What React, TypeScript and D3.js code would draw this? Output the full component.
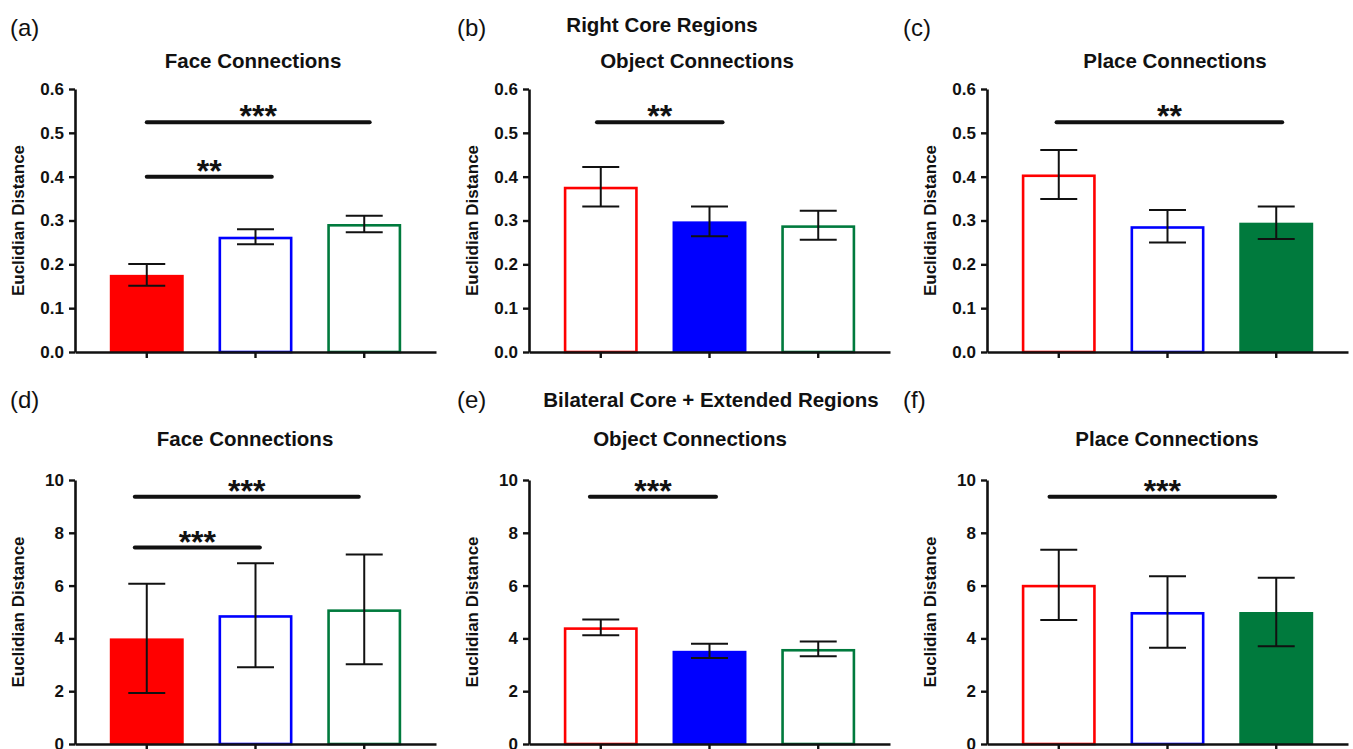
import { useEffect, useRef } from "react";
import * as d3 from "d3";

// groups shown in every panel, left to right
const groups = ["Face", "Object", "Place"];
const groupColors = ["#ff0000", "#0000ff", "#007a3d"];

const panelLetters = ["(a)", "(b)", "(c)", "(d)", "(e)", "(f)"];
const panelTitles = [
  "Face Connections",
  "Object Connections",
  "Place Connections",
  "Face Connections",
  "Object Connections",
  "Place Connections",
];
const rowHeaders = ["Right Core Regions", "Bilateral Core + Extended Regions"];

const rightCoreTicks = [0, 0.1, 0.2, 0.3, 0.4, 0.5, 0.6];
const bilateralTicks = [0, 2, 4, 6, 8, 10];

// right core regions
const rightFaceMean = [0.176, 0.263, 0.292];
const rightFaceSem = [0.025, 0.017, 0.019];
const rightObjectMean = [0.377, 0.298, 0.289];
const rightObjectSem = [0.045, 0.034, 0.033];
const rightPlaceMean = [0.405, 0.287, 0.295];
const rightPlaceSem = [0.056, 0.037, 0.037];

// bilateral core + extended regions
const bilatFaceMean = [4.0, 4.88, 5.1];
const bilatFaceSem = [2.07, 1.97, 2.08];
const bilatObjectMean = [4.42, 3.53, 3.6];
const bilatObjectSem = [0.3, 0.27, 0.28];
const bilatPlaceMean = [6.03, 5.0, 5.0];
const bilatPlaceSem = [1.33, 1.35, 1.3];

// index of the solid bar in each panel (the others are outlines)
const solidBar = [0, 1, 2, 0, 1, 2];

// significance bars, x in group units (0 = centre of first group)
const rightFaceSig = [
  { from: 0, to: 1.15, y: 0.4, label: "**" },
  { from: 0, to: 2.05, y: 0.524, label: "***" },
];
const rightObjectSig = [{ from: -0.035, to: 1.12, y: 0.524, label: "**" }];
const rightPlaceSig = [{ from: -0.02, to: 2.055, y: 0.524, label: "**" }];
const bilatFaceSig = [
  { from: -0.11, to: 1.04, y: 7.44, label: "***" },
  { from: -0.11, to: 1.95, y: 9.37, label: "***" },
];
const bilatObjectSig = [{ from: -0.1, to: 1.06, y: 9.37, label: "***" }];
const bilatPlaceSig = [{ from: -0.085, to: 1.99, y: 9.37, label: "***" }];

const panels = [
  { mean: rightFaceMean, sem: rightFaceSem, sig: rightFaceSig, row: 0, col: 0 },
  { mean: rightObjectMean, sem: rightObjectSem, sig: rightObjectSig, row: 0, col: 1 },
  { mean: rightPlaceMean, sem: rightPlaceSem, sig: rightPlaceSig, row: 0, col: 2 },
  { mean: bilatFaceMean, sem: bilatFaceSem, sig: bilatFaceSig, row: 1, col: 0 },
  { mean: bilatObjectMean, sem: bilatObjectSem, sig: bilatObjectSig, row: 1, col: 1 },
  { mean: bilatPlaceMean, sem: bilatPlaceSem, sig: bilatPlaceSig, row: 1, col: 2 },
];

const W = 1353;
const H = 749;
const FONT = "'Liberation Sans', Arial, Helvetica, sans-serif";
const INK = "#111";

// layout
const axisX = [75, 529, 987];
const rowTop = [89, 480];
const rowBottom = [352, 744];
const plotW = 361;
const titleDx = [178, 168, 188, 170, 161, 180];
const titleY = [68, 446];
const letterX = [10, 457, 903];
const letterY = [36, 408];
const headerX = [662, 711];
const headerY = [32, 407];

const App = () => {
  const svgRef = useRef<SVGSVGElement>(null);

  useEffect(() => {
    const svg = d3.select(svgRef.current);
    svg.selectAll("*").remove();

    // row headers
    rowHeaders.forEach((h, r) => {
      svg
        .append("text")
        .attr("x", headerX[r])
        .attr("y", headerY[r])
        .attr("text-anchor", "middle")
        .style("font", `bold 20.5px ${FONT}`)
        .attr("fill", INK)
        .text(h);
    });

    panels.forEach((p, i) => {
      const x0 = axisX[p.col];
      const yDomainTicks = p.row === 0 ? rightCoreTicks : bilateralTicks;
      const yMax = yDomainTicks[yDomainTicks.length - 1];

      const g = svg.append("g").attr("transform", `translate(${x0},0)`);

      const x = d3
        .scaleBand()
        .domain(groups)
        .range([0, plotW])
        .paddingInner(0.32)
        .paddingOuter(0.32);
      const y = d3
        .scaleLinear()
        .domain([0, yMax])
        .range([rowBottom[p.row], rowTop[p.row]]);
      const centre = (k: number) => x(groups[k])! + x.bandwidth() / 2;
      const xs = d3.scaleLinear().domain([0, 2]).range([centre(0), centre(2)]);

      // panel letter and title
      svg
        .append("text")
        .attr("x", letterX[p.col])
        .attr("y", letterY[p.row])
        .style("font", `24px ${FONT}`)
        .attr("fill", INK)
        .text(panelLetters[i]);
      g.append("text")
        .attr("x", titleDx[i])
        .attr("y", titleY[p.row])
        .attr("text-anchor", "middle")
        .style("font", `bold 20.5px ${FONT}`)
        .attr("fill", INK)
        .text(panelTitles[i]);

      // bars
      const sw = 2.6;
      g.selectAll(".bar")
        .data(p.mean)
        .enter()
        .append("rect")
        .attr("x", (d, k) => x(groups[k])! + (k === solidBar[i] ? 0 : sw / 2))
        .attr("width", (d, k) => x.bandwidth() - (k === solidBar[i] ? 0 : sw))
        .attr("y", (d, k) => y(d) + (k === solidBar[i] ? 0 : sw / 2))
        .attr("height", (d, k) => y(0) - y(d) - (k === solidBar[i] ? 0 : sw / 2))
        .attr("fill", (d, k) => (k === solidBar[i] ? groupColors[k] : "#fff"))
        .attr("stroke", (d, k) => (k === solidBar[i] ? "none" : groupColors[k]))
        .attr("stroke-width", sw);

      // error bars
      const cap = x.bandwidth() / 4;
      p.mean.forEach((m, k) => {
        const cx = centre(k);
        const lo = y(m - p.sem[k]);
        const hi = y(m + p.sem[k]);
        const eg = g.append("g").attr("stroke", INK).attr("stroke-width", 2);
        eg.append("line").attr("x1", cx).attr("x2", cx).attr("y1", lo).attr("y2", hi);
        eg.append("line").attr("x1", cx - cap).attr("x2", cx + cap).attr("y1", lo).attr("y2", lo);
        eg.append("line").attr("x1", cx - cap).attr("x2", cx + cap).attr("y1", hi).attr("y2", hi);
      });

      // axes
      const yAxis = d3
        .axisLeft(y)
        .tickValues(yDomainTicks)
        .tickSize(6)
        .tickSizeOuter(0)
        .tickPadding(5)
        .tickFormat((d) => (p.row === 0 ? (d as number).toFixed(1) : String(d)));
      const ya = g.append("g").call(yAxis);
      const xAxis = d3
        .axisBottom(x)
        .tickSize(6)
        .tickSizeOuter(0)
        .tickFormat(() => "");
      const xa = g
        .append("g")
        .attr("transform", `translate(0,${rowBottom[p.row]})`)
        .call(xAxis);
      [ya, xa].forEach((a) => {
        a.select(".domain").attr("stroke", INK).attr("stroke-width", 2.6);
        a.selectAll(".tick line").attr("stroke", INK).attr("stroke-width", 2.4);
        a.selectAll(".tick text")
          .attr("fill", INK)
          .style("font", `bold 17px ${FONT}`);
      });

      // y label
      const midY = (rowTop[p.row] + rowBottom[p.row]) / 2;
      g.append("text")
        .attr("transform", `translate(-51,${midY}) rotate(-90)`)
        .attr("text-anchor", "middle")
        .style("font", `bold 17px ${FONT}`)
        .attr("fill", INK)
        .text("Euclidian Distance");

      // significance bars
      p.sig.forEach((s) => {
        const ly = y(s.y);
        g.append("line")
          .attr("x1", xs(s.from))
          .attr("x2", xs(s.to))
          .attr("y1", ly)
          .attr("y2", ly)
          .attr("stroke", INK)
          .attr("stroke-width", 4)
          .attr("stroke-linecap", "round");
        g.append("text")
          .attr("x", (xs(s.from) + xs(s.to)) / 2)
          .attr("y", ly + 5)
          .attr("text-anchor", "middle")
          .style("font", `bold 32px ${FONT}`)
          .attr("fill", INK)
          .text(s.label);
      });
    });
  }, []);

  return (
    <svg
      ref={svgRef}
      width={W}
      height={H}
      style={{ position: "absolute", left: 0, top: 0, background: "#fff" }}
    />
  );
};

export default App;
